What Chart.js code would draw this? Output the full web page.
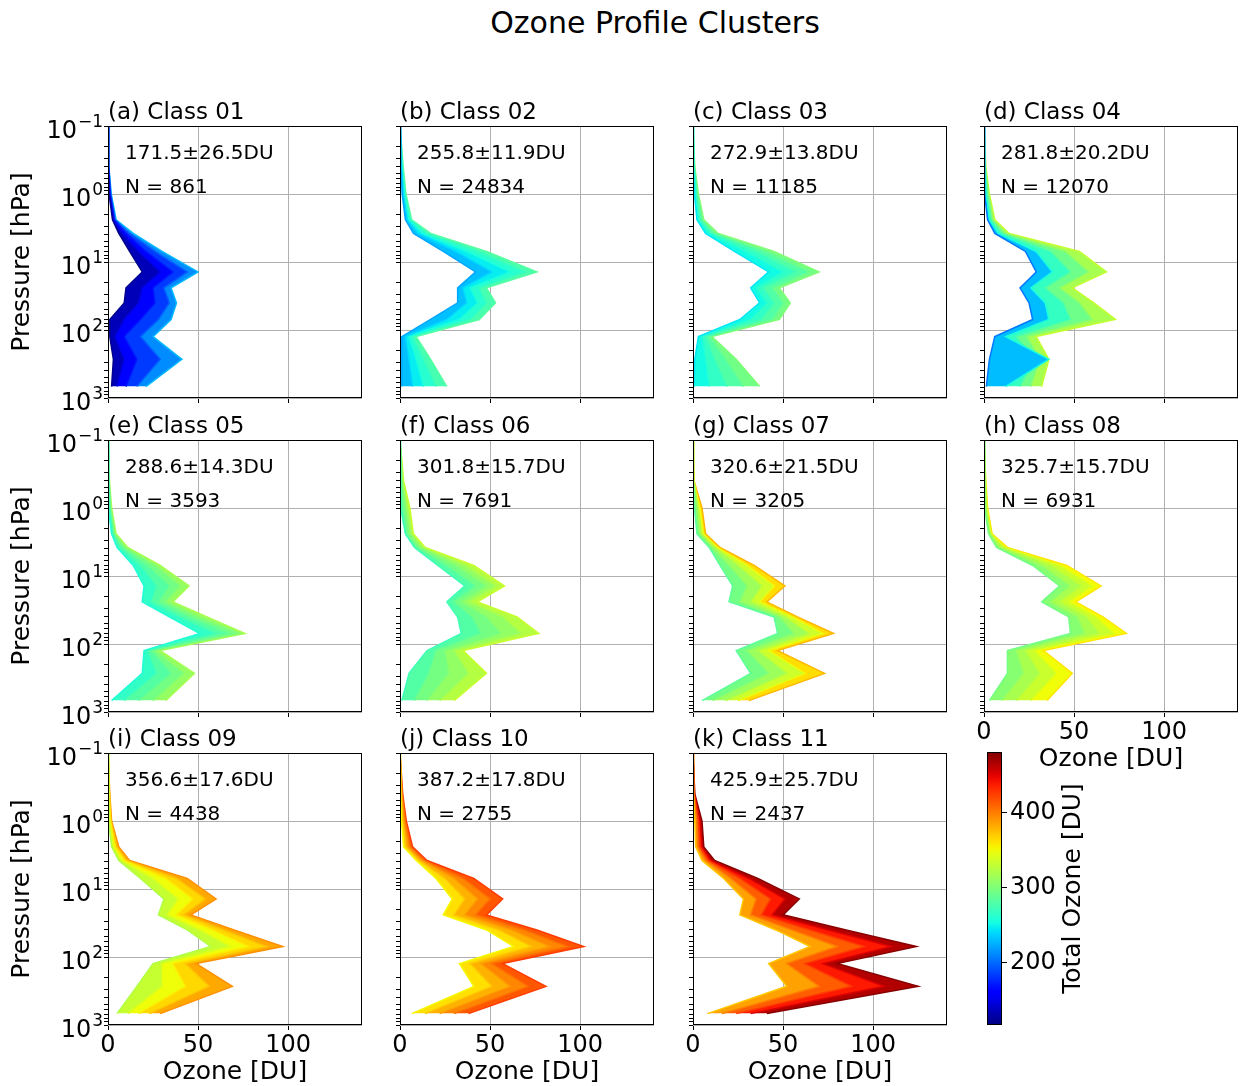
<!DOCTYPE html>
<html>
<head>
<meta charset="utf-8">
<title>Ozone Profile Clusters</title>
<script src="https://cdn.jsdelivr.net/npm/chart.js@4.4.1/dist/chart.umd.min.js"></script>
<style>
  html, body { margin: 0; padding: 0; background: #fff; }
  #figure { position: relative; width: 1243px; height: 1086px; overflow: hidden; font-family: 'DejaVu Sans', sans-serif; }
  #figure canvas { position: absolute; }
  #suptitle { position: absolute; left: 0; top: 5px; width: 1310px; text-align: center; font-size: 30px; color: #000; }
</style>
</head>
<body>
<div id="figure">
  <div id="suptitle">Ozone Profile Clusters</div>
</div>
<script>
// 气压层（hPa），每条廓线都在这些层上取值
const pressureLevels = [0.1, 0.4, 1, 2.4, 3.8, 7, 14, 24, 40, 70, 125, 270, 680];

// 各类别的标题、总臭氧均值/标准差、样本数
const classTitles = ['(a) Class 01', '(b) Class 02', '(c) Class 03', '(d) Class 04',
                     '(e) Class 05', '(f) Class 06', '(g) Class 07', '(h) Class 08',
                     '(i) Class 09', '(j) Class 10', '(k) Class 11'];
const classMeans = [171.5, 255.8, 272.9, 281.8, 288.6, 301.8, 320.6, 325.7, 356.6, 387.2, 425.9];
const classStds = [26.5, 11.9, 13.8, 20.2, 14.3, 15.7, 21.5, 15.7, 17.6, 17.8, 25.7];
const classCounts = [861, 24834, 11185, 12070, 3593, 7691, 3205, 6931, 4438, 2755, 2437];

// 每类若干条代表廓线：总臭氧（DU，决定颜色）+ 各层臭氧（DU）
const class01Totals = [122, 148, 170, 196, 228];
const class01Profiles = [
  [0, 0, 0.6, 2.5, 6, 12, 19, 10, 9, 1, 1, 3, 2],
  [0, 0.2, 0.9, 3, 8, 17, 29, 19, 17, 9, 4, 9, 5],
  [0, 0.3, 1.2, 3.5, 10, 21, 36, 25, 26, 18, 9, 16, 10],
  [0, 0.4, 1.5, 4, 12, 26, 44, 31, 34, 28, 18, 29, 16],
  [0, 0.5, 1.8, 4.5, 14, 30, 50, 35, 38, 35, 25, 41, 21]
];
const class02Totals = [222, 240, 255, 268, 283];
const class02Profiles = [
  [0, 0.5, 1.2, 3, 7.5, 24, 42, 32, 32, 17, 1, 1, 1],
  [0, 0.8, 1.8, 4, 10, 31, 51, 35, 37, 26, 3, 5, 7],
  [0, 1, 2.3, 5, 12.5, 37, 61, 39, 43, 33, 5, 9, 13],
  [0, 1.3, 2.8, 5.8, 15, 43, 69, 44, 48, 39, 7, 13, 20],
  [0, 1.8, 3.3, 6.5, 17, 48, 76, 48, 53, 44, 9, 17, 26]
];
const class03Totals = [245, 260, 273, 287, 302];
const class03Profiles = [
  [0, 0.2, 0.8, 2.2, 7, 23, 42, 32, 37, 26, 3, 1, 0.5],
  [0, 0.4, 1.4, 3, 9, 29, 50, 35, 41, 32, 5, 7, 9],
  [0, 0.6, 2, 4, 10.5, 35, 57, 39, 45, 38, 7, 12, 19],
  [0, 0.8, 2.5, 5, 12, 40, 64, 44, 50, 44, 9, 18, 28],
  [0, 1, 3, 6, 14, 45, 70, 48, 54, 48, 10.5, 24, 37]
];
const class04Totals = [205, 255, 280, 305, 332];
const class04Profiles = [
  [0, 0.2, 0.5, 2, 6, 23, 29, 20, 25, 27, 6, 3, 1.3],
  [0, 0.4, 1, 3, 8, 29, 38, 26, 34, 36, 12, 36, 12],
  [0, 0.6, 1.8, 4, 10, 37, 48, 34, 44, 48, 18, 28, 20],
  [0, 0.8, 2.5, 5, 12, 45, 58, 42, 53, 60, 24, 31, 26],
  [0, 1, 3, 6, 14, 53, 68, 49, 61, 73, 29, 36, 32]
];
const class05Totals = [258, 275, 288, 302, 318];
const class05Profiles = [
  [0, 0.1, 0.4, 2, 5, 14, 20, 19, 34, 51, 20, 19, 2],
  [0, 0.3, 0.8, 2.6, 6.5, 18, 27, 24, 40, 60, 22, 27, 9],
  [0, 0.5, 1.2, 3.2, 8, 22, 34, 28, 45, 67, 24, 35, 17],
  [0, 0.6, 1.6, 3.8, 9.5, 26, 40, 32, 50, 73, 26, 42, 25],
  [0, 0.8, 2, 4.5, 11, 29, 45, 36, 55, 76, 29, 48, 32]
];
const class06Totals = [272, 290, 302, 316, 333];
const class06Profiles = [
  [0, 0.2, 0.5, 3, 8, 21, 36, 26, 32, 34, 15, 5, 1],
  [0, 0.6, 1.8, 4, 9.5, 26, 42, 30, 40, 45, 20, 16, 8],
  [0, 1, 3, 5.2, 11, 31, 48, 34, 48, 56, 25, 27, 15],
  [0, 1.5, 4.2, 6.4, 12.5, 36, 53, 38, 57, 67, 30, 38, 22],
  [0, 2, 5.5, 7.4, 14, 41, 58, 43, 65, 77, 35, 48, 30]
];
const class07Totals = [285, 305, 322, 347, 378];
const class07Profiles = [
  [0, 0.1, 0.8, 2.2, 9, 15, 22, 20, 45, 47, 24, 32, 5],
  [0, 0.2, 1.8, 3.4, 10.5, 20, 30, 26, 48, 56, 30, 42, 11],
  [0, 0.3, 2.8, 4.6, 12, 25, 38, 32, 51, 64, 36, 52, 18],
  [0, 0.4, 3.8, 5.8, 13.5, 30, 45, 37, 55, 72, 42, 62, 25],
  [0, 0.6, 5, 7, 15, 34, 51, 41, 58, 78, 47, 73, 31]
];
const class08Totals = [295, 312, 326, 341, 360];
const class08Profiles = [
  [0, 0.2, 0.5, 2.5, 7, 27, 42, 32, 47, 48, 13, 13, 3],
  [0, 0.4, 0.9, 3, 8.5, 32, 48, 37, 52, 56, 18, 22, 10],
  [0, 0.6, 1.3, 3.5, 10, 37, 54, 42, 57, 64, 23, 31, 18],
  [0, 0.8, 1.7, 4, 11.5, 42, 60, 47, 62, 72, 28, 40, 26],
  [0, 1, 2, 4.5, 13, 46, 65, 51, 66, 79, 33, 49, 35]
];
const class09Totals = [322, 342, 357, 373, 393];
const class09Profiles = [
  [0, 0.2, 0.5, 2, 6, 18, 31, 28, 44, 57, 25, 16, 5],
  [0, 0.4, 0.9, 3, 7.5, 25, 39, 33, 51, 68, 30, 30, 11],
  [0, 0.6, 1.3, 4, 9, 32, 47, 38, 58, 78, 36, 43, 17],
  [0, 0.8, 1.7, 5, 10.5, 38, 54, 42, 64, 88, 43, 56, 23],
  [0, 1, 2, 6, 12, 44, 60, 46, 70, 97, 49, 69, 29]
];
const class10Totals = [352, 372, 388, 405, 425];
const class10Profiles = [
  [0, 0.3, 0.8, 2, 9, 20, 29, 24, 48, 63, 33, 41, 6.5],
  [0, 0.6, 1.5, 3.2, 10.5, 25, 36, 30, 55, 73, 39, 51, 14],
  [0, 0.9, 2.2, 4.5, 12, 30, 43, 36, 62, 83, 45, 61, 22],
  [0, 1.2, 2.9, 5.8, 13.5, 35, 50, 42, 69, 93, 51, 71, 30],
  [0, 1.5, 3.5, 7, 15, 41, 57, 48, 76, 102, 57, 81, 38]
];
const class11Totals = [372, 400, 425, 452, 478];
const class11Profiles = [
  [0, 0.2, 1, 1.5, 5, 17, 28, 26, 46, 65, 42, 52, 8],
  [0, 0.4, 2, 2.6, 7, 21, 35, 32, 55, 80, 52, 70, 16],
  [0, 0.6, 3, 3.8, 8.5, 26, 43, 38, 65, 95, 62, 88, 24],
  [0, 0.8, 4, 5, 10, 31, 51, 44, 75, 110, 72, 106, 32],
  [0, 1, 5, 6, 12, 36, 59, 50, 85, 124, 80, 125, 41]
];

// 坐标轴刻度
const ozoneTicks = [0, 50, 100];
const pressureDecades = [0.1, 1, 10, 100, 1000];
const pressureExponents = ['\u22121', '0', '1', '2', '3'];
const totalOzoneTicks = [200, 300, 400];
const totalOzoneRange = [117, 481];

const allTotals = [class01Totals, class02Totals, class03Totals, class04Totals, class05Totals, class06Totals,
                   class07Totals, class08Totals, class09Totals, class10Totals, class11Totals];
const allProfiles = [class01Profiles, class02Profiles, class03Profiles, class04Profiles, class05Profiles, class06Profiles,
                     class07Profiles, class08Profiles, class09Profiles, class10Profiles, class11Profiles];

// 版面参数（像素）
const colLefts = [108, 400, 693, 984];
const rowTops = [126, 440, 753];
const PW = 254, PH = 272;
const ML = 100, MT = 45, MR = 12, MB = 80;
const FONT = '"DejaVu Sans", sans-serif';

// matplotlib jet 色标
const JET = {
  r: [[0, 0], [0.35, 0], [0.66, 1], [0.89, 1], [1, 0.5]],
  g: [[0, 0], [0.125, 0], [0.375, 1], [0.64, 1], [0.91, 0], [1, 0]],
  b: [[0, 0.5], [0.11, 1], [0.34, 1], [0.65, 0], [1, 0]]
};
function jetChannel(pts, t) {
  for (let i = 1; i < pts.length; i++) {
    if (t <= pts[i][0]) {
      const [x0, y0] = pts[i - 1], [x1, y1] = pts[i];
      return y0 + (y1 - y0) * (t - x0) / (x1 - x0);
    }
  }
  return pts[pts.length - 1][1];
}
function jet(value) {
  const t = Math.min(1, Math.max(0, (value - totalOzoneRange[0]) / (totalOzoneRange[1] - totalOzoneRange[0])));
  const r = Math.round(255 * jetChannel(JET.r, t));
  const g = Math.round(255 * jetChannel(JET.g, t));
  const b = Math.round(255 * jetChannel(JET.b, t));
  return `rgb(${r},${g},${b})`;
}

// 对数轴的刻度位置：每个量级的 1..9 倍
function pressureMarks() {
  const marks = [];
  pressureDecades.slice(0, -1).forEach(d => {
    for (let m = 1; m <= 9; m++) marks.push(d * m);
  });
  marks.push(pressureDecades[pressureDecades.length - 1]);
  return marks;
}
function isDecade(v) {
  const l = Math.log10(v);
  return Math.abs(l - Math.round(l)) < 1e-6;
}

// 画“10^n”形式的刻度标签
function drawPower(ctx, exp, right, y) {
  ctx.font = `17px ${FONT}`;
  const we = ctx.measureText(exp).width;
  ctx.font = `24px ${FONT}`;
  const wb = ctx.measureText('10').width;
  const x0 = right - we - wb - 1;
  ctx.textAlign = 'left';
  ctx.textBaseline = 'alphabetic';
  ctx.fillText('10', x0, y + 12);
  ctx.font = `17px ${FONT}`;
  ctx.fillText(exp, x0 + wb + 1, y + 1);
}

// 子图边框、标题、统计注记、轴标题
const panelFrame = {
  id: 'panelFrame',
  afterDraw(chart, args, opts) {
    const { ctx, chartArea: a } = chart;
    ctx.save();
    ctx.strokeStyle = '#000';
    ctx.lineWidth = 1;
    ctx.strokeRect(Math.round(a.left) + 0.5, Math.round(a.top) + 0.5, Math.round(a.right - a.left) - 1, Math.round(a.bottom - a.top) - 1);

    ctx.fillStyle = '#000';
    ctx.textAlign = 'left';
    ctx.textBaseline = 'alphabetic';
    ctx.font = `23px ${FONT}`;
    ctx.fillText(opts.title, a.left, a.top - 7);

    ctx.font = `20px ${FONT}`;
    ctx.fillText(opts.stat, a.left + 17, a.top + 33);
    ctx.fillText(opts.count, a.left + 17, a.top + 67);

    if (opts.showY) {
      const ys = chart.scales.y;
      pressureDecades.forEach((d, i) => drawPower(ctx, pressureExponents[i], a.left - 5, ys.getPixelForValue(d)));
      ctx.save();
      ctx.translate(a.left - 86, (a.top + a.bottom) / 2);
      ctx.rotate(-Math.PI / 2);
      ctx.font = `25px ${FONT}`;
      ctx.textAlign = 'center';
      ctx.textBaseline = 'middle';
      ctx.fillText('Pressure [hPa]', 0, 0);
      ctx.restore();
    }
    if (opts.showX) {
      ctx.font = `25px ${FONT}`;
      ctx.textAlign = 'center';
      ctx.textBaseline = 'middle';
      ctx.fillText('Ozone [DU]', (a.left + a.right) / 2, a.bottom + 47);
    }
    ctx.restore();
  }
};

const figure = document.getElementById('figure');

function addCanvas(left, top, width, height) {
  const canvas = document.createElement('canvas');
  canvas.width = width;
  canvas.height = height;
  canvas.style.left = left + 'px';
  canvas.style.top = top + 'px';
  canvas.style.width = width + 'px';
  canvas.style.height = height + 'px';
  figure.appendChild(canvas);
  return canvas;
}

// 单个类别的廓线子图
function renderPanel(i) {
  const row = Math.floor(i / 4), col = i % 4;
  const showX = row === 2 || i === 7;
  const showY = col === 0;
  const canvas = addCanvas(colLefts[col] - ML, rowTops[row] - MT, PW + ML + MR, PH + MT + MB);
  const totals = allTotals[i];

  const datasets = allProfiles[i].map((prof, k) => ({
    data: pressureLevels.map((p, j) => ({ x: prof[j], y: p })),
    borderColor: jet(totals[k]),
    backgroundColor: k > 0 ? jet((totals[k] + totals[k - 1]) / 2) : 'rgba(0,0,0,0)',
    fill: k > 0 ? '-1' : false,
    borderWidth: 1.5,
    pointRadius: 0,
    tension: 0
  }));

  new Chart(canvas, {
    type: 'line',
    data: { datasets },
    options: {
      indexAxis: 'y',
      responsive: false,
      animation: false,
      devicePixelRatio: 1,
      events: [],
      layout: { padding: { left: 0, top: MT, right: MR, bottom: 0 } },
      plugins: {
        legend: { display: false },
        tooltip: { enabled: false },
        panelFrame: {
          title: classTitles[i],
          stat: `${classMeans[i].toFixed(1)}\u00b1${classStds[i].toFixed(1)}DU`,
          count: `N = ${classCounts[i]}`,
          showX, showY
        }
      },
      scales: {
        x: {
          type: 'linear',
          min: 0,
          max: 141,
          afterBuildTicks: s => { s.ticks = ozoneTicks.map(v => ({ value: v })); },
          afterFit: s => { s.height = MB; },
          border: { display: false },
          grid: {
            color: c => (c.tick && c.tick.value > 0 ? '#b0b0b0' : 'rgba(0,0,0,0)'),
            tickColor: '#000',
            tickLength: 5,
            lineWidth: 1
          },
          ticks: { display: showX, color: '#000', font: { family: FONT, size: 24 }, padding: 1, maxRotation: 0 }
        },
        y: {
          type: 'logarithmic',
          reverse: true,
          min: 0.1,
          max: 1000,
          afterBuildTicks: s => { s.ticks = pressureMarks().map(v => ({ value: v })); },
          afterFit: s => { s.width = ML; },
          border: { display: false },
          grid: {
            color: c => (c.tick && isDecade(c.tick.value) ? '#b0b0b0' : 'rgba(0,0,0,0)'),
            tickColor: '#000',
            tickLength: 4,
            lineWidth: 1
          },
          ticks: { display: false }
        }
      }
    },
    plugins: [panelFrame]
  });
}

// 色标：一根浮动柱，填充 jet 渐变
const colorbarFrame = {
  id: 'colorbarFrame',
  afterDraw(chart) {
    const { ctx, chartArea: a } = chart;
    ctx.save();
    ctx.strokeStyle = '#000';
    ctx.lineWidth = 1;
    ctx.strokeRect(Math.round(a.left) + 0.5, Math.round(a.top) + 0.5, Math.round(a.right - a.left) - 1, Math.round(a.bottom - a.top) - 1);
    ctx.translate(a.right + 71, (a.top + a.bottom) / 2);
    ctx.rotate(-Math.PI / 2);
    ctx.fillStyle = '#000';
    ctx.font = `25px ${FONT}`;
    ctx.textAlign = 'center';
    ctx.textBaseline = 'middle';
    ctx.fillText('Total Ozone [DU]', 0, 0);
    ctx.restore();
  }
};

function renderColorbar() {
  const CB = { left: 987, top: 752, width: 15, height: 273 };
  const pad = 24, right = 110;   // 上下留足空间，避免刻度标签把色标区域挤小
  const canvas = addCanvas(CB.left - pad, CB.top - pad, pad + CB.width + right, CB.height + 2 * pad);
  new Chart(canvas, {
    type: 'bar',
    data: {
      labels: [''],
      datasets: [{
        data: [totalOzoneRange.slice()],
        barPercentage: 1,
        categoryPercentage: 1,
        borderWidth: 0,
        backgroundColor: c => {
          const area = c.chart.chartArea;
          if (!area) return '#000';
          const ys = c.chart.scales.y;
          const g = c.chart.ctx.createLinearGradient(0, ys.getPixelForValue(totalOzoneRange[0]), 0, ys.getPixelForValue(totalOzoneRange[1]));
          for (let s = 0; s <= 40; s++) {
            const v = totalOzoneRange[0] + (totalOzoneRange[1] - totalOzoneRange[0]) * s / 40;
            g.addColorStop(s / 40, jet(v));
          }
          return g;
        }
      }]
    },
    options: {
      responsive: false,
      animation: false,
      devicePixelRatio: 1,
      events: [],
      layout: { padding: { left: pad, top: pad, right: 0, bottom: pad } },
      plugins: { legend: { display: false }, tooltip: { enabled: false } },
      scales: {
        x: { display: false },
        y: {
          position: 'right',
          min: totalOzoneRange[0],
          max: totalOzoneRange[1],
          afterBuildTicks: s => { s.ticks = totalOzoneTicks.map(v => ({ value: v })); },
          afterFit: s => { s.width = right; },
          border: { display: false },
          grid: { drawOnChartArea: false, tickColor: '#000', tickLength: 5 },
          ticks: { color: '#000', font: { family: FONT, size: 24 }, padding: 3 }
        }
      }
    },
    plugins: [colorbarFrame]
  });
}

document.addEventListener('DOMContentLoaded', () => {
  for (let i = 0; i < classTitles.length; i++) renderPanel(i);
  renderColorbar();
});
</script>
</body>
</html>
